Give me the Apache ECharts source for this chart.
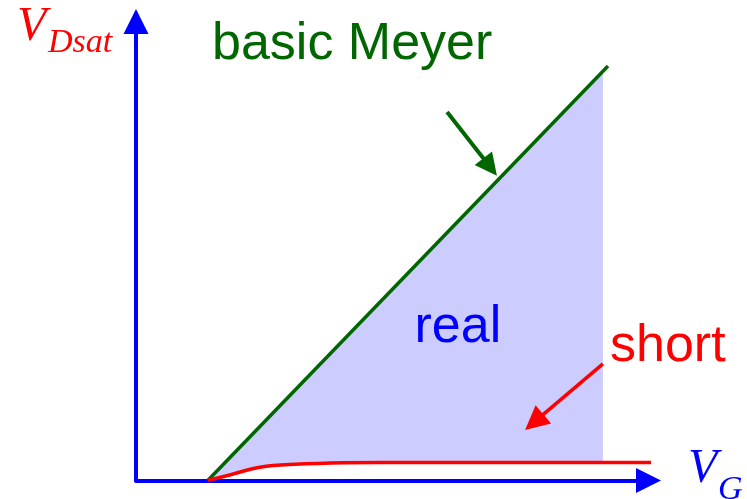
<!DOCTYPE html>
<html>
<head>
<meta charset="utf-8">
<script src="https://cdn.jsdelivr.net/npm/echarts@6/dist/echarts.min.js"></script>
<style>
  html, body { margin: 0; padding: 0; background: #fff; }
  #main { width: 747px; height: 499px; }
</style>
</head>
<body>
<div id="main"></div>
<script>
// basic Meyer model: straight line from threshold
const vgMeyer = [1.4, 9.21];
const vdMeyer = [0, 9.03];

// short channel: saturates almost at once
const vgShort = [1.4, 1.83, 2.42, 3.2, 3.79, 4.76, 9.11, 10.17];
const vdShort = [0, 0.12, 0.29, 0.36, 0.38, 0.39, 0.39, 0.39];

// upper edge of the "real" region (lower edge follows the short curve)
const vgReal = [1.4, 9.11];
const vdReal = [0, 8.9];

// pointer arrows [start, head]
const meyerArrow = [[6.07, 8.03], [6.91, 6.83]];
const shortArrow = [[9.11, 2.54], [7.77, 1.27]];

const BLUE = '#0000ff';
const GREEN = '#006600';
const RED = '#ff0000';

const zip = (xs, ys) => xs.map((x, i) => [x, ys[i]]);

const realPoly = zip(vgReal, vdReal).concat(
  zip(vgShort, vdShort).filter(p => p[0] <= vgReal[vgReal.length - 1]).reverse()
);

const chart = echarts.init(document.getElementById('main'));

chart.setOption({
  animation: false,
  grid: { left: 136, top: 21.5, right: 98.5, bottom: 18.5 },
  xAxis: {
    type: 'value', min: 0, max: 10,
    axisLine: {
      show: true, onZero: false,
      symbol: ['none', 'triangle'], symbolSize: [25, 25],
      lineStyle: { color: BLUE, width: 4 }
    },
    axisTick: { show: false }, axisLabel: { show: false }, splitLine: { show: false }
  },
  yAxis: {
    type: 'value', min: 0, max: 10,
    axisLine: {
      show: true, onZero: false,
      symbol: ['none', 'triangle'], symbolSize: [25, 25],
      lineStyle: { color: BLUE, width: 4 }
    },
    axisTick: { show: false }, axisLabel: { show: false }, splitLine: { show: false }
  },
  series: [
    {
      type: 'custom',
      z: 1,
      data: [0],
      clip: false,
      renderItem: (params, api) => ({
        type: 'polygon',
        shape: { points: realPoly.map(p => api.coord(p)) },
        style: { fill: '#ccccff', stroke: null }
      })
    },
    {
      type: 'line',
      z: 3,
      data: zip(vgMeyer, vdMeyer),
      showSymbol: false,
      clip: false,
      lineStyle: { color: GREEN, width: 3.5 }
    },
    {
      type: 'line',
      z: 3,
      data: zip(vgShort, vdShort),
      smooth: 0.4,
      showSymbol: false,
      clip: false,
      lineStyle: { color: RED, width: 3.5 }
    },
    {
      type: 'lines',
      coordinateSystem: 'cartesian2d',
      z: 4,
      symbol: ['none', 'triangle'],
      symbolSize: [25, 22],
      lineStyle: { color: GREEN, width: 4, opacity: 1 },
      data: [{ coords: meyerArrow }]
    },
    {
      type: 'lines',
      coordinateSystem: 'cartesian2d',
      z: 4,
      symbol: ['none', 'triangle'],
      symbolSize: [22, 24],
      lineStyle: { color: RED, width: 3.5, opacity: 1 },
      data: [{ coords: shortArrow }]
    }
  ],
  graphic: [
    { type: 'text', x: 17, y: 27, style: { text: 'V', font: 'italic 48px "Liberation Serif"', fill: RED, textAlign: 'left', textVerticalAlign: 'middle', align: 'left', verticalAlign: 'middle' } },
    { type: 'text', x: 48, y: 43.5, style: { text: 'Dsat', font: 'italic 34px "Liberation Serif"', fill: RED, textAlign: 'left', textVerticalAlign: 'middle', align: 'left', verticalAlign: 'middle' } },
    { type: 'text', x: 688, y: 469, style: { text: 'V', font: 'italic 48px "Liberation Serif"', fill: BLUE, textAlign: 'left', textVerticalAlign: 'middle', align: 'left', verticalAlign: 'middle' } },
    { type: 'text', x: 718, y: 490.5, style: { text: 'G', font: 'italic 34px "Liberation Serif"', fill: BLUE, textAlign: 'left', textVerticalAlign: 'middle', align: 'left', verticalAlign: 'middle' } },
    { type: 'text', x: 212, y: 45, style: { text: 'basic Meyer', font: '52px "Liberation Sans"', fill: GREEN, textAlign: 'left', textVerticalAlign: 'middle', align: 'left', verticalAlign: 'middle' } },
    { type: 'text', x: 414.5, y: 328, z: 5, style: { text: 'real', font: '52px "Liberation Sans"', fill: BLUE, textAlign: 'left', textVerticalAlign: 'middle', align: 'left', verticalAlign: 'middle' } },
    { type: 'text', x: 610, y: 347, style: { text: 'short', font: '52px "Liberation Sans"', fill: RED, textAlign: 'left', textVerticalAlign: 'middle', align: 'left', verticalAlign: 'middle' } }
  ]
});
</script>
</body>
</html>
